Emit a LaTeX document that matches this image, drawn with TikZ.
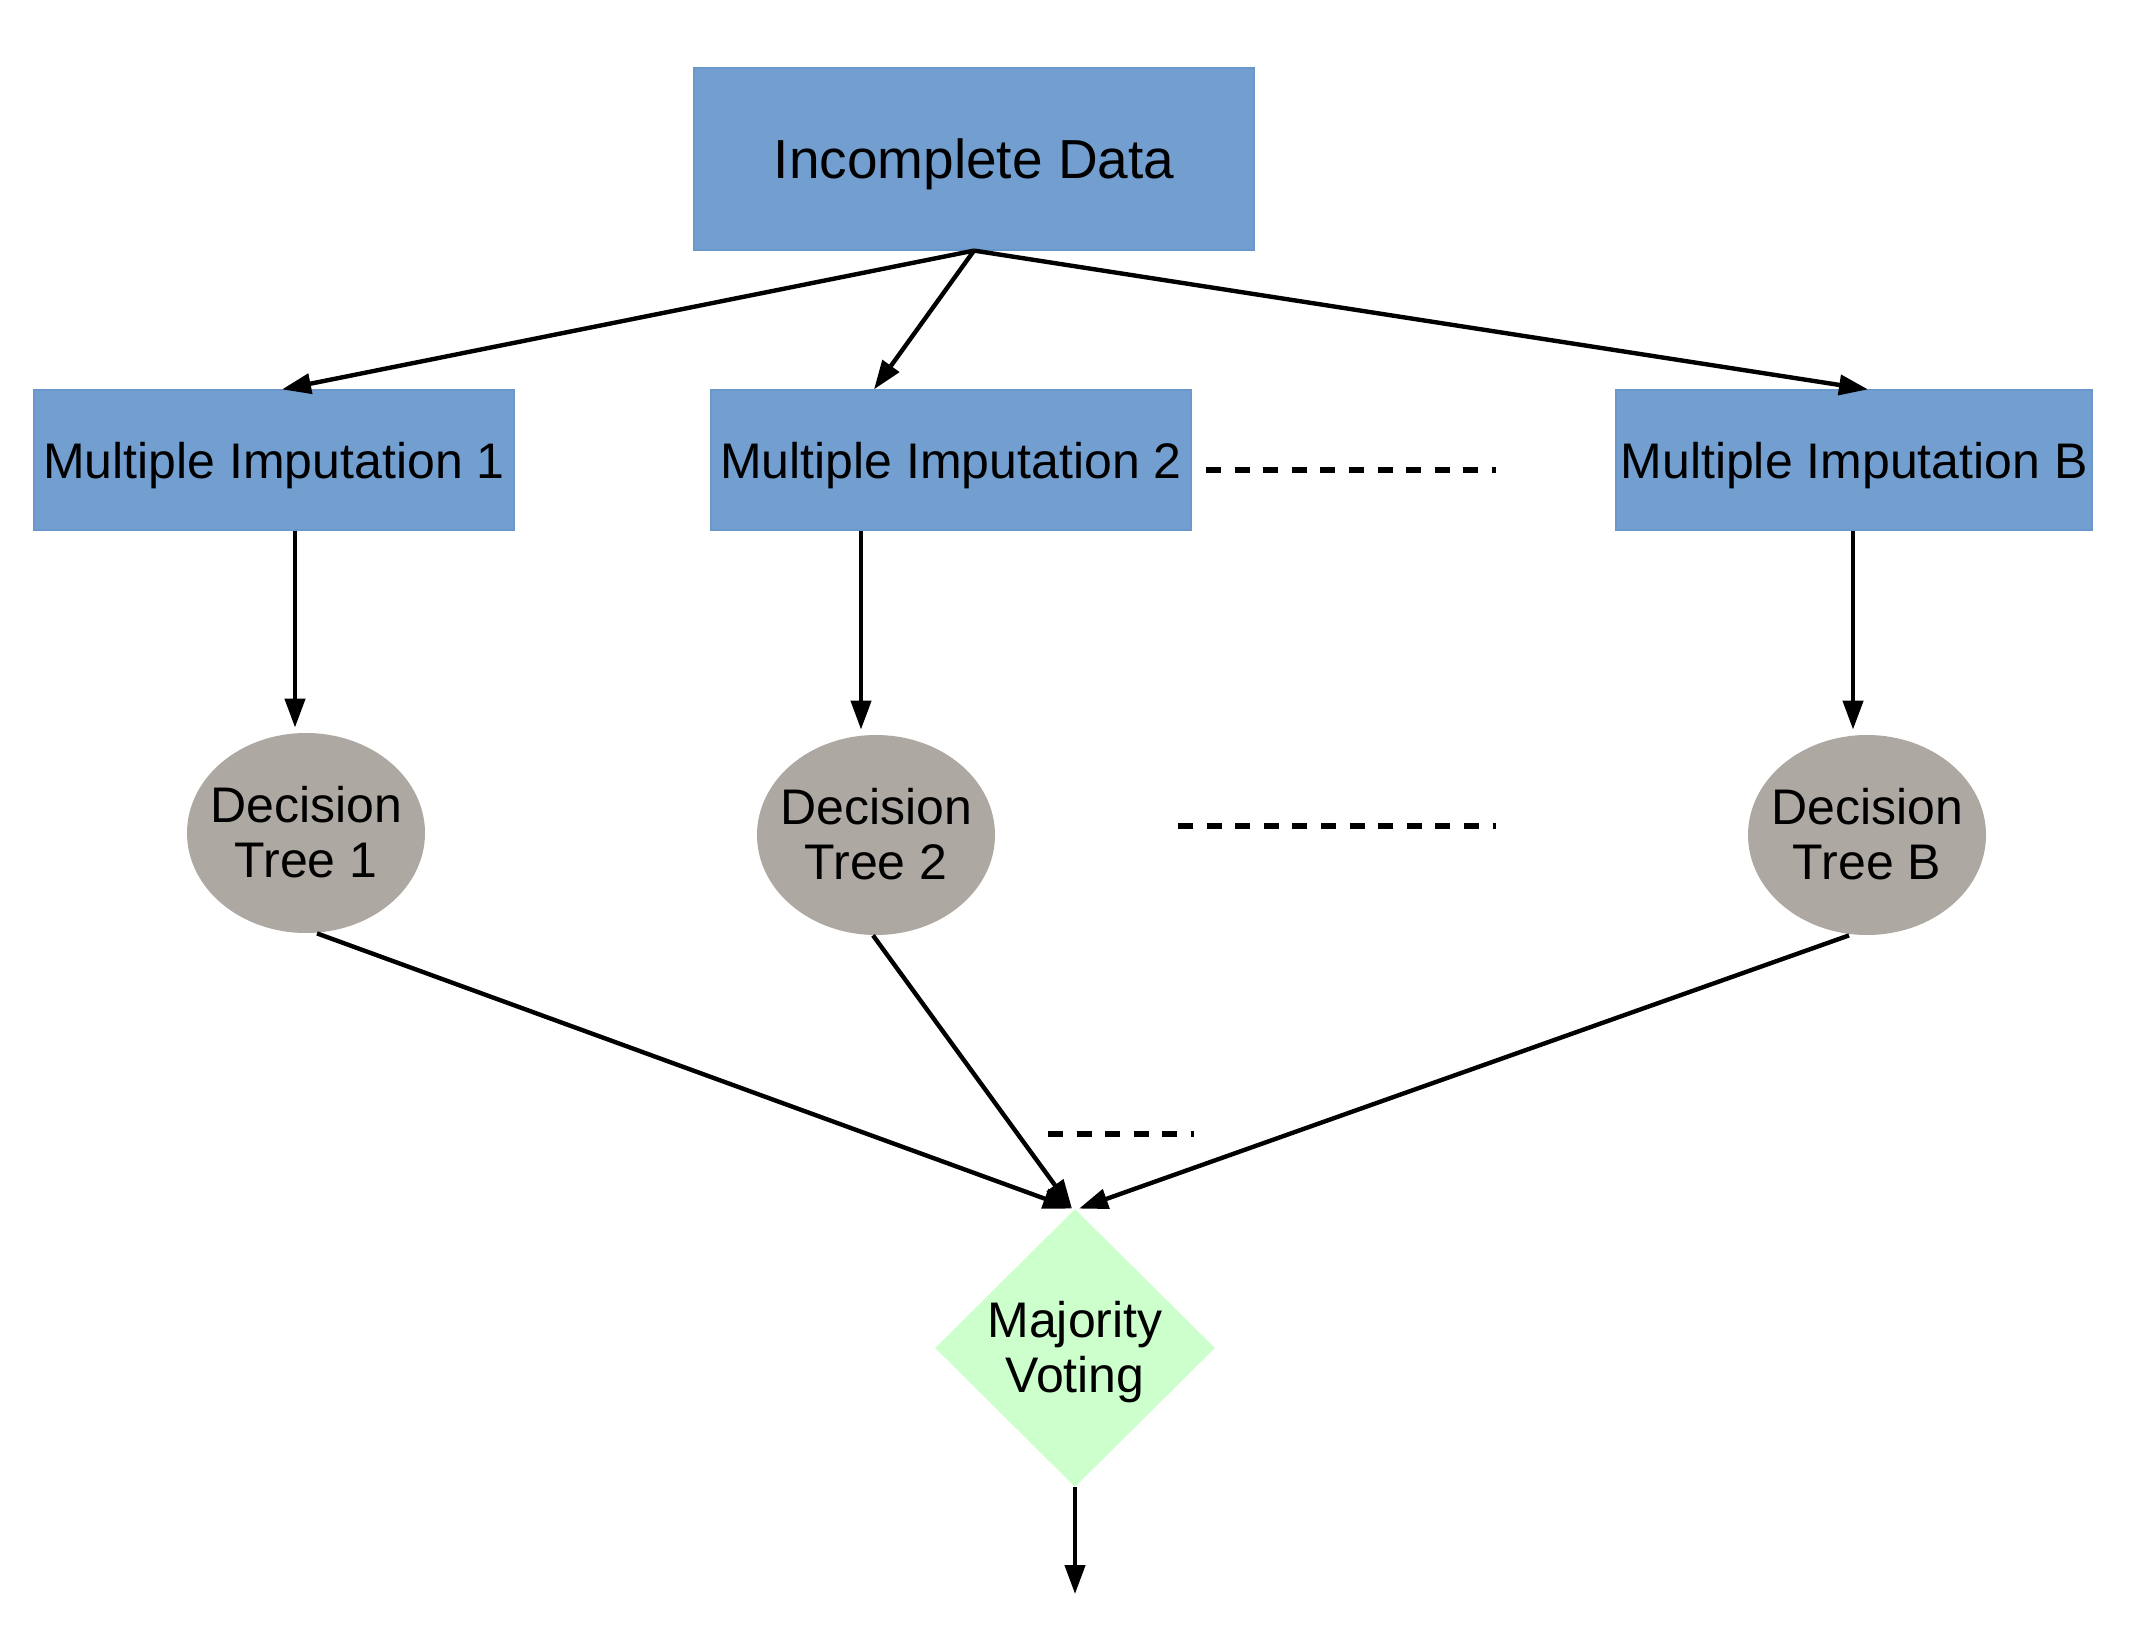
\documentclass[tikz,border=0pt]{standalone}
\usepackage{fontspec}
\setmainfont{Liberation Sans}
\usetikzlibrary{shapes.geometric,arrows.meta,calc}
\definecolor{boxblue}{HTML}{729FCF}
\definecolor{boxedge}{HTML}{6A98CC}
\definecolor{treegray}{HTML}{ADA8A1}
\definecolor{votegreen}{HTML}{CCFFCC}
\newcommand{\twolines}[2]{\makebox[0pt][c]{\raisebox{5.5pt}[0pt][0pt]{\begin{tabular}[t]{@{}c@{}}#1\\#2\end{tabular}}}}
\begin{document}
\begin{tikzpicture}[x=0.5pt,y=-0.5pt,
  bluebox/.style={rectangle, fill=boxblue, draw=boxedge, line width=0.6pt, inner sep=0pt,
     text depth=0pt, minimum height=70pt, font=\fontsize{25}{27.5}\selectfont},
  treenode/.style={ellipse, fill=treegray, inner sep=0pt, minimum width=119pt, minimum height=100pt,
     font=\fontsize{25}{27.5}\selectfont},
  votenode/.style={diamond, fill=votegreen, inner sep=0pt, minimum width=140pt, minimum height=139pt,
     font=\fontsize{25}{27.5}\selectfont},
  arr/.style={draw=black, line width=2.2pt, -{Triangle[length=14.5pt,width=10pt]}},
  dots/.style={draw=black, line width=2.7pt, dash pattern=on 7.5pt off 6.8pt}]
\useasboundingbox (0,0) rectangle (2140,1641);
% boxes
\node[bluebox, minimum width=280pt, minimum height=91pt, font=\fontsize{27.5}{30}\selectfont] (id) at (974,159) {Incomplete Data};
\node[bluebox, minimum width=240pt] (mi1) at (274,460) {Multiple Imputation 1};
\node[bluebox, minimum width=240pt] (mi2) at (951,460) {Multiple Imputation 2};
\node[bluebox, minimum width=238pt] (mib) at (1854,460) {Multiple Imputation B};
% trees
\node[treenode] (dt1) at (306,833) {\twolines{Decision}{Tree 1}};
\node[treenode] (dt2) at (876,835) {\twolines{Decision}{Tree 2}};
\node[treenode] (dtb) at (1867,835) {\twolines{Decision}{Tree B}};
% vote
\node[votenode] (mv) at (1075,1348) {\twolines{Majority}{Voting}};
\coordinate (out) at (1075,1594);
% dotted continuation marks
\coordinate (d1a) at (1206,470); \coordinate (d1b) at (1496,470);
\coordinate (d2a) at (1178,826); \coordinate (d2b) at (1496,826);
\coordinate (d3a) at (1048,1134); \coordinate (d3b) at (1194,1134);
\draw[dots] (d1a) -- (d1b);
\draw[dots] (d2a) -- (d2b);
\draw[dots] (d3a) -- (d3b);
% arrows from incomplete data
\draw[arr] (id.south) -- ($(mi1.north)+(8,0)$);
\draw[arr] (id.south) -- ($(mi2.north)+(-77,0)$);
\draw[arr] (id.south) -- ($(mib.north)+(14,0)$);
% imputation to trees
\draw[arr] ($(mi1.south)+(21,0)$) -- ($(dt1.north)+(-11,-5)$);
\draw[arr] ($(mi2.south)+(-90,0)$) -- ($(dt2.north)+(-15,-5)$);
\draw[arr] ($(mib.south)+(-1,0)$) -- ($(dtb.north)+(-14,-5)$);
% trees to vote
\draw[arr] ($(dt1.south)+(11,0)$) -- ($(mv.north)+(-3,0)$);
\draw[arr] ($(dt2.south)+(-3,0)$) -- ($(mv.north)+(-3,0)$);
\draw[arr] ($(dtb.south)+(-18,0)$) -- ($(mv.north)+(4,0)$);
% output
\draw[arr] (mv.south) -- (out);
\end{tikzpicture}
\end{document}
